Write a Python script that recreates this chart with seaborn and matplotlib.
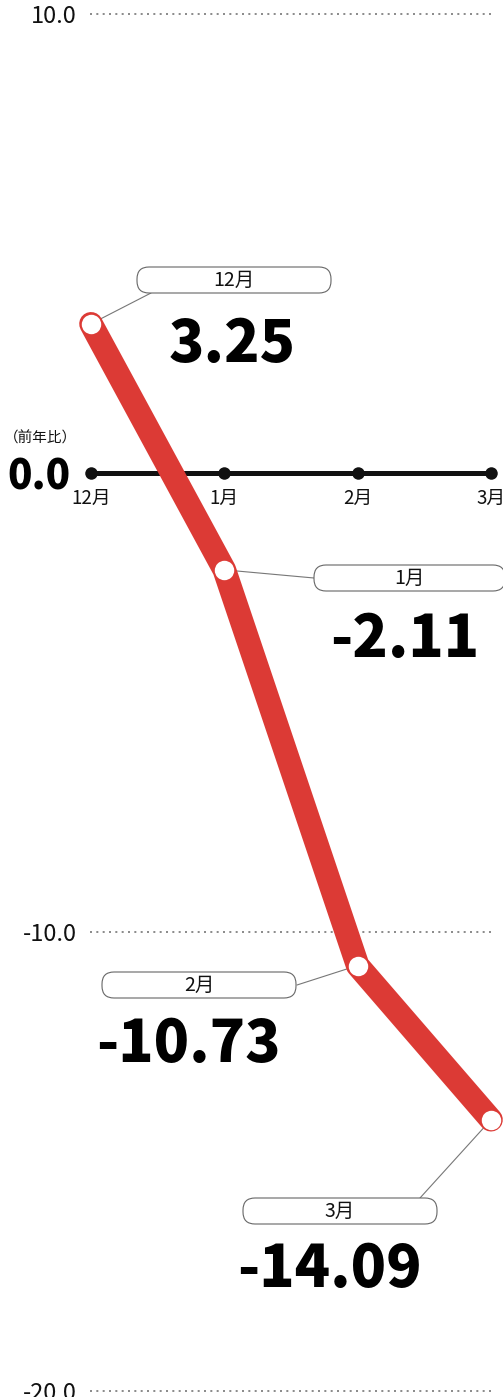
import pandas as pd
import matplotlib.pyplot as plt
import matplotlib.patches as mpatches
import matplotlib.transforms as mtransforms
import seaborn as sns

# chart data
months = ['12月', '1月', '2月', '3月']
values = [3.25, -2.11, -10.73, -14.09]
grid_values = [10, -10, -20]
grid_labels = ['10.0', '-10.0', '-20.0']

# label layout (image pixels, y measured from top)
box_x = [137, 314, 102, 243]
box_y = [267, 565, 972, 1198]
box_w = [194, 191, 194, 194]
anchors = [(151, 293), (314, 578), (297, 985), (420, 1198)]
value_pos = [(232, 362), (405, 657), (188, 1062), (329, 1287)]

W, H = 503, 1397
RED = '#DC3A35'

sns.set_theme(style='white')
plt.rcParams['font.family'] = ['Noto Sans CJK JP', 'DejaVu Sans']

df = pd.DataFrame({'pos': range(len(months)), 'month': months, 'value': values})
df['base'] = 0.0

fig = plt.figure(figsize=(W / 100, H / 100), dpi=100)
ax = fig.add_axes([91 / W, 6 / H, 400 / W, 1377 / H])
ax.set_xlim(0, 3)
ax.set_ylim(-20, 10)

# dotted grid lines
ax.hlines(grid_values, -0.005, 3.02, colors='#777', linestyles=(0, (1.2, 2.6)), lw=1.2, clip_on=False)

# baseline with dots
sns.lineplot(data=df, x='pos', y='base', color='#111', lw=3.6, marker='o', markersize=9,
             markeredgewidth=0, ax=ax, clip_on=False, zorder=3)

# main red line
sns.lineplot(data=df, x='pos', y='value', color=RED, lw=17, solid_capstyle='round',
             solid_joinstyle='round', marker='o', markersize=14, markerfacecolor='white',
             markeredgewidth=0, ax=ax, clip_on=False, zorder=4)

# axes styling
ax.set_yticks(grid_values, grid_labels)
ax.tick_params(axis='y', length=0, pad=10, labelsize=17, labelcolor='#111')
ax.set_xticks([])
ax.set_xlabel('')
ax.set_ylabel('')
sns.despine(ax=ax, left=True, bottom=True)

# month labels under the baseline
for i, m in enumerate(months):
    ax.annotate(m, (i, 0), xytext=(0, -25), textcoords='offset pixels', ha='center',
                va='center', fontsize=13.5, color='#111', annotation_clip=False)

fig.text(39 / W, 1 - 490 / H, '0.0', ha='center', va='baseline', fontsize=29,
         fontweight=900, color='#000')
fig.text(40 / W, 1 - 438 / H, '（前年比）', ha='center', va='center', fontsize=10.5, color='#111')

# callout boxes with values
for i, (m, v) in enumerate(zip(months, values)):
    x0, y0, w = box_x[i], box_y[i], box_w[i]
    ax_, ay_ = anchors[i]
    ax.annotate('', xy=(i, v), xycoords='data', xytext=(ax_, H - ay_), textcoords='figure pixels',
                arrowprops=dict(arrowstyle='-', color='#777', lw=0.8, shrinkA=0, shrinkB=0),
                zorder=2, annotation_clip=False)
    box = mpatches.FancyBboxPatch((x0, H - y0 - 26), w, 26, boxstyle='round,pad=0,rounding_size=12',
                                  transform=mtransforms.IdentityTransform(), fc='white', ec='#666', lw=0.8)
    fig.add_artist(box)
    fig.text((x0 + w / 2) / W, 1 - (y0 + 13) / H, m, ha='center', va='center', fontsize=14, color='#111')
    vx, vy = value_pos[i]
    fig.text(vx / W, 1 - vy / H, f'{v:.2f}', ha='center', va='baseline', fontsize=42,
             fontweight=900, color='#000')

plt.savefig('out.png', dpi=100)
